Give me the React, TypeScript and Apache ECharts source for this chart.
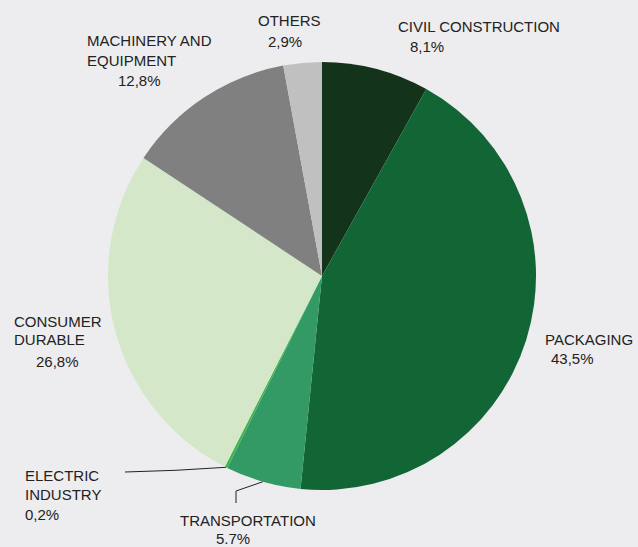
import React, { useEffect, useRef } from "react";
import * as echarts from "echarts";

const categories = [
  "CIVIL CONSTRUCTION",
  "PACKAGING",
  "TRANSPORTATION",
  "ELECTRIC\nINDUSTRY",
  "CONSUMER\nDURABLE",
  "MACHINERY AND\nEQUIPMENT",
  "OTHERS",
];
const shares = [8.1, 43.5, 5.7, 0.2, 26.8, 12.8, 2.9];
const decimalSeparators = [",", ",", ".", ",", ",", ",", ","];
const colors = ["#14331b", "#126535", "#339a66", "#3db54a", "#d4e8c9", "#808080", "#c0c0c0"];

// label placement (styling only)
const labelPos = [
  [398, 17],
  [545, 330],
  [180, 512],
  [25, 466],
  [14, 312],
  [87, 30],
  [258, 11],
];
const nameLineHeight = [18, 18, 17, 19, 18, 20, 18];
const pctIndent = [12, 6, 36, 0, 22, 31, 10];
const pctLineHeight = [22, 21, 18, 20, 27, 21, 24];
const withLine = [false, false, true, true, false, false, false];
const FONT = "Liberation Sans, Arial, sans-serif";

export default function App() {
  const ref = useRef<HTMLDivElement>(null);
  useEffect(() => {
    document.body.style.margin = "0";
    document.body.style.background = "#ededef";
    const chart = echarts.init(ref.current!, null, { renderer: "svg" });
    const data = categories.map((name, i) => ({
      name,
      value: shares[i],
      itemStyle: { color: colors[i] },
      label: {
        rich: {
          n: { fontSize: 15, lineHeight: nameLineHeight[i], color: "#222", fontFamily: FONT },
          p: {
            fontSize: 15,
            lineHeight: pctLineHeight[i],
            color: "#222",
            fontFamily: FONT,
            padding: [0, 0, 0, pctIndent[i]],
          },
        },
      },
      labelLine: { show: withLine[i] },
    }));
    chart.setOption({
      animation: false,
      backgroundColor: "#ededef",
      series: [
        {
          type: "pie",
          center: [322, 276],
          radius: [0, 214],
          startAngle: 90,
          clockwise: true,
          avoidLabelOverlap: false,
          data,
          label: {
            show: true,
            position: "outside",
            align: "left",
            formatter: (p: any) => {
              const i = p.dataIndex;
              const lines = String(p.name)
                .split("\n")
                .map((s: string) => `{n|${s}}`)
                .join("\n");
              const pct = shares[i].toFixed(1).replace(".", decimalSeparators[i]) + "%";
              return `${lines}\n{p|${pct}}`;
            },
          },
          labelLine: {
            show: false,
            lineStyle: { color: "#222", width: 1 },
          },
          labelLayout: (params: any) => {
            const i = params.dataIndex;
            const [x, y] = labelPos[i];
            const res: any = { x, y, align: "left", verticalAlign: "top" };
            if (withLine[i] && params.labelLinePoints) {
              const start = params.labelLinePoints[0];
              if (i === 3) {
                res.labelLinePoints = [start, [start[0] - 50, start[1] + 3], [125, 472]];
              } else if (i === 2) {
                res.labelLinePoints = [start, [236, 491], [236, 503]];
              }
            }
            return res;
          },
        },
      ],
    });
    return () => chart.dispose();
  }, []);
  return <div ref={ref} style={{ width: 638, height: 547 }} />;
}
